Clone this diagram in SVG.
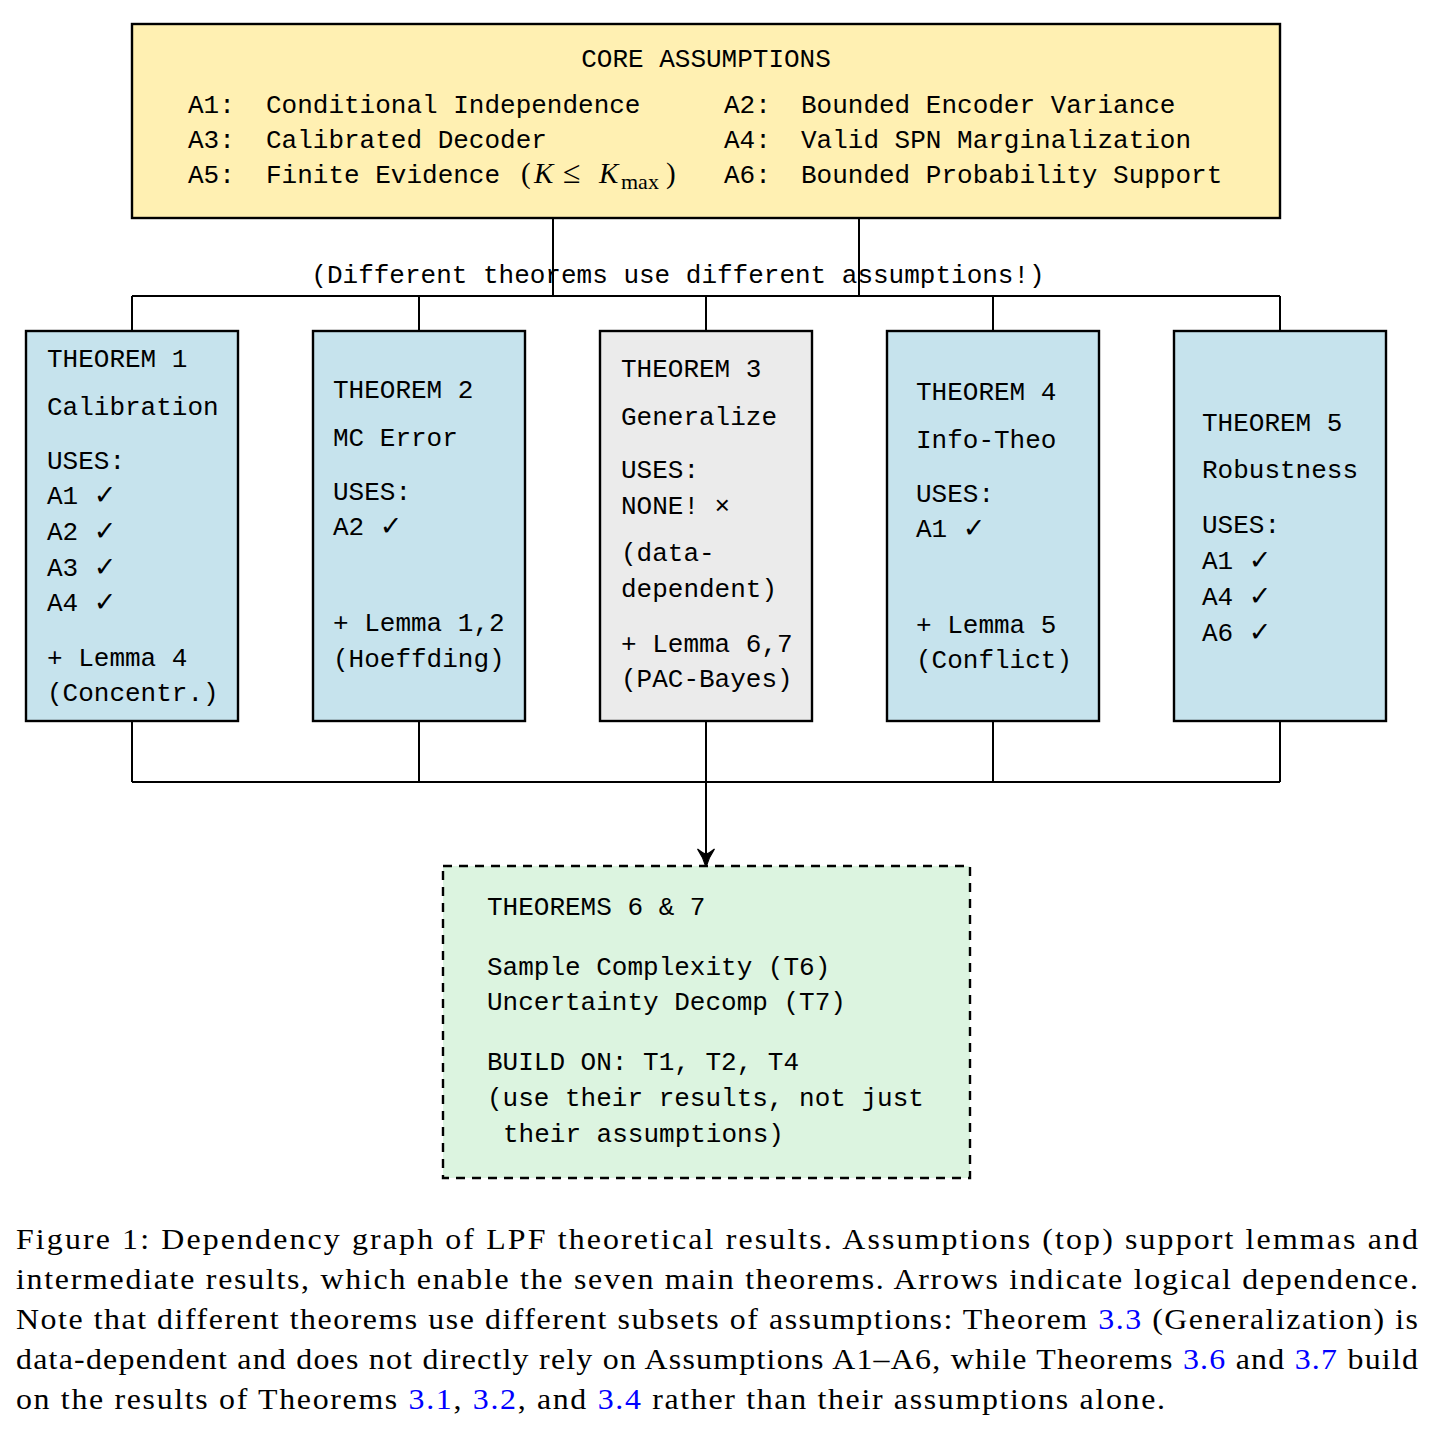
<svg xmlns="http://www.w3.org/2000/svg" width="1440" height="1435" viewBox="0 0 1440 1435">
<style>
.mono{font-family:"Liberation Mono","DejaVu Sans Mono",monospace;font-size:26px;fill:#000}
.serif{font-family:"Liberation Serif","DejaVu Serif",serif;fill:#000}
.cap{font-family:"Liberation Serif","DejaVu Serif",serif;font-size:29px;fill:#000}
.ref{fill:#0000ff}
.ck{font-family:"DejaVu Sans",sans-serif;font-size:27px}
.box{stroke:#000;stroke-width:2.4}
.line{stroke:#000;stroke-width:2;fill:none}
</style>
<rect width="1440" height="1435" fill="#ffffff"/>

<g id="connectors">
  <path class="line" d="M553 218V296M859 218V296M132 296H1280M132 296V331M419 296V331M706 296V331M993 296V331M1280 296V331"/>
  <path class="line" d="M132 721V782M419 721V782M993 721V782M1280 721V782M132 782H1280M706 721V856"/>
  <path d="M706 867 Q703 857 697.5 849 Q704 854 706 854 Q708 854 714.5 849 Q709 857 706 867 Z" fill="#000" stroke="#000" stroke-width="1.2"/>
  <text class="mono" x="678" y="283" text-anchor="middle">(Different theorems use different assumptions!)</text>
</g>

<g id="core">
  <rect class="box" x="132" y="24" width="1148" height="194" fill="#FFF0B2"/>
  <text class="mono" x="706" y="67" text-anchor="middle">CORE ASSUMPTIONS</text>
  <text class="mono" x="188" y="113">A1:</text><text class="mono" x="266" y="113">Conditional Independence</text>
  <text class="mono" x="724" y="113">A2:</text><text class="mono" x="801" y="113">Bounded Encoder Variance</text>
  <text class="mono" x="188" y="148">A3:</text><text class="mono" x="266" y="148">Calibrated Decoder</text>
  <text class="mono" x="724" y="148">A4:</text><text class="mono" x="801" y="148">Valid SPN Marginalization</text>
  <text class="mono" x="188" y="183">A5:</text><text class="mono" x="266" y="183">Finite Evidence</text>
  <text class="serif" font-size="29" x="521" y="183">(</text>
  <text class="serif" font-size="29" font-style="italic" x="534" y="183">K</text>
  <text class="serif" font-size="32" x="563" y="183">≤</text>
  <text class="serif" font-size="29" font-style="italic" x="599" y="183">K</text>
  <text class="serif" font-size="22" x="621" y="189">max</text>
  <text class="serif" font-size="29" x="666" y="183">)</text>
  <text class="mono" x="724" y="183">A6:</text><text class="mono" x="801" y="183">Bounded Probability Support</text>
</g>

<g id="t1">
  <rect class="box" x="26" y="331" width="212" height="390" fill="#C6E3ED"/>
  <text class="mono" x="47" y="367">THEOREM 1</text>
  <text class="mono" x="47" y="415">Calibration</text>
  <text class="mono" x="47" y="469">USES:</text>
  <text class="mono" x="47" y="504">A1 <tspan class="ck">✓</tspan></text>
  <text class="mono" x="47" y="540">A2 <tspan class="ck">✓</tspan></text>
  <text class="mono" x="47" y="576">A3 <tspan class="ck">✓</tspan></text>
  <text class="mono" x="47" y="611">A4 <tspan class="ck">✓</tspan></text>
  <text class="mono" x="47" y="666">+ Lemma 4</text>
  <text class="mono" x="47" y="701">(Concentr.)</text>
</g>

<g id="t2">
  <rect class="box" x="313" y="331" width="212" height="390" fill="#C6E3ED"/>
  <text class="mono" x="333" y="398">THEOREM 2</text>
  <text class="mono" x="333" y="446">MC Error</text>
  <text class="mono" x="333" y="500">USES:</text>
  <text class="mono" x="333" y="535">A2 <tspan class="ck">✓</tspan></text>
  <text class="mono" x="333" y="631">+ Lemma 1,2</text>
  <text class="mono" x="333" y="667">(Hoeffding)</text>
</g>

<g id="t3">
  <rect class="box" x="600" y="331" width="212" height="390" fill="#EBEBEB"/>
  <text class="mono" x="621" y="377">THEOREM 3</text>
  <text class="mono" x="621" y="425">Generalize</text>
  <text class="mono" x="621" y="478">USES:</text>
  <text class="mono" x="621" y="514">NONE! ×</text>
  <text class="mono" x="621" y="561">(data-</text>
  <text class="mono" x="621" y="597">dependent)</text>
  <text class="mono" x="621" y="652">+ Lemma 6,7</text>
  <text class="mono" x="621" y="687">(PAC-Bayes)</text>
</g>

<g id="t4">
  <rect class="box" x="887" y="331" width="212" height="390" fill="#C6E3ED"/>
  <text class="mono" x="916" y="400">THEOREM 4</text>
  <text class="mono" x="916" y="448">Info-Theo</text>
  <text class="mono" x="916" y="502">USES:</text>
  <text class="mono" x="916" y="537">A1 <tspan class="ck">✓</tspan></text>
  <text class="mono" x="916" y="633">+ Lemma 5</text>
  <text class="mono" x="916" y="668">(Conflict)</text>
</g>

<g id="t5">
  <rect class="box" x="1174" y="331" width="212" height="390" fill="#C6E3ED"/>
  <text class="mono" x="1202" y="431">THEOREM 5</text>
  <text class="mono" x="1202" y="478">Robustness</text>
  <text class="mono" x="1202" y="533">USES:</text>
  <text class="mono" x="1202" y="569">A1 <tspan class="ck">✓</tspan></text>
  <text class="mono" x="1202" y="605">A4 <tspan class="ck">✓</tspan></text>
  <text class="mono" x="1202" y="641">A6 <tspan class="ck">✓</tspan></text>
</g>

<g id="t67">
  <rect class="box" x="443" y="866" width="527" height="312" fill="#DCF4E0" stroke-dasharray="9 7"/>
  <text class="mono" x="487" y="915">THEOREMS 6 &amp; 7</text>
  <text class="mono" x="487" y="975">Sample Complexity (T6)</text>
  <text class="mono" x="487" y="1010">Uncertainty Decomp (T7)</text>
  <text class="mono" x="487" y="1070">BUILD ON: T1, T2, T4</text>
  <text class="mono" x="487" y="1106">(use their results, not just</text>
  <text class="mono" x="503" y="1142">their assumptions)</text>
</g>

<g id="caption" transform="matrix(1.1 0 0 1 0 0)">
  <text class="cap" x="14.55" y="1249" textLength="1274.5" lengthAdjust="spacing">Figure 1: Dependency graph of LPF theoretical results. Assumptions (top) support lemmas and</text>
  <text class="cap" x="14.55" y="1289" textLength="1274.5" lengthAdjust="spacing">intermediate results, which enable the seven main theorems. Arrows indicate logical dependence.</text>
  <text class="cap" x="14.55" y="1329" textLength="1274.5" lengthAdjust="spacing">Note that different theorems use different subsets of assumptions: Theorem <tspan class="ref">3.3</tspan> (Generalization) is</text>
  <text class="cap" x="14.55" y="1369" textLength="1274.5" lengthAdjust="spacing">data-dependent and does not directly rely on Assumptions A1–A6, while Theorems <tspan class="ref">3.6</tspan> and <tspan class="ref">3.7</tspan> build</text>
  <text class="cap" x="14.55" y="1409" textLength="1044.5" lengthAdjust="spacing">on the results of Theorems <tspan class="ref">3.1</tspan>, <tspan class="ref">3.2</tspan>, and <tspan class="ref">3.4</tspan> rather than their assumptions alone.</text>
</g>
</svg>
